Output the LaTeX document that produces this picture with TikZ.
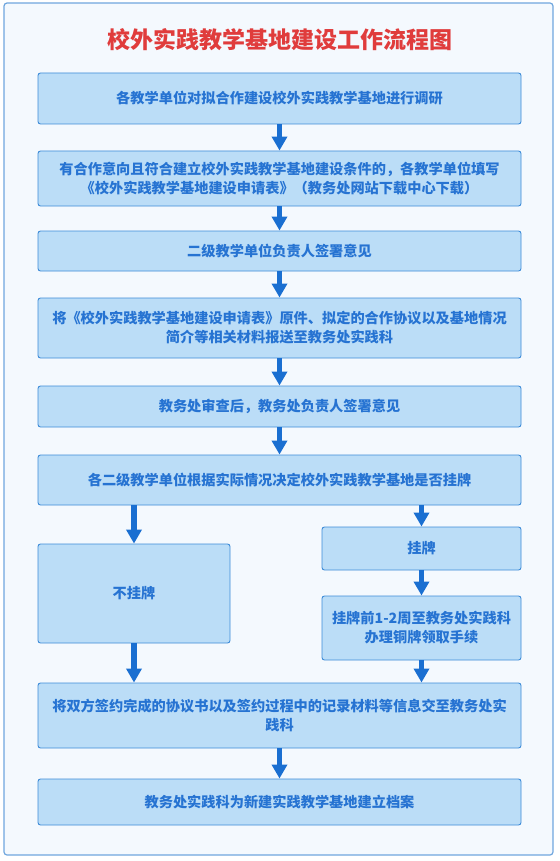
\documentclass[tikz,border=0pt]{standalone}
\usepackage{fontspec}
\newfontfamily\cjk{Noto Sans CJK SC}
\usetikzlibrary{arrows.meta}
\definecolor{frameC}{HTML}{6FA6DE}
\definecolor{bgC}{HTML}{F4F9FE}
\definecolor{boxC}{HTML}{BBDDF7}
\definecolor{boxL}{HTML}{3D8BD8}
\definecolor{txtC}{HTML}{2673D2}
\definecolor{arrC}{HTML}{1A6FD1}
\definecolor{titleC}{HTML}{E03C3C}
\tikzset{
  frame/.style={draw=frameC, line width=1.2pt, fill=bgC, rounded corners=3pt},
  stepbox/.style={draw=boxL, line width=0.9pt, fill=boxC, rounded corners=2.5pt,
    inner sep=0pt, align=center, text=txtC,
    font=\cjk\bfseries\fontsize{14.2}{19}\selectfont},
  flow/.style={draw=arrC, line width=5.5pt, -{Triangle[width=15pt,length=14pt]}, arrC}
}
\begin{document}
\begin{tikzpicture}[x=1pt,y=-1pt]
\useasboundingbox (0,0) rectangle (559,861);
\draw[frame] (4,3) rectangle (553,855);
\node[text=titleC, font=\cjk\bfseries\fontsize{23}{26}\selectfont] (title) at (280,40) {校外实践教学基地建设工作流程图};
\node[stepbox, minimum width=483pt, minimum height=51pt] (b1) at (279.5,98.5) {各教学单位对拟合作建设校外实践教学基地进行调研};
\node[stepbox, minimum width=483pt, minimum height=55pt] (b2) at (279.5,178.5) {有合作意向且符合建立校外实践教学基地建设条件的，各教学单位填写\\《校外实践教学基地建设申请表》（教务处网站下载中心下载）};
\node[stepbox, minimum width=483pt, minimum height=40pt] (b3) at (279.5,251) {二级教学单位负责人签署意见};
\node[stepbox, minimum width=483pt, minimum height=60pt] (b4) at (279.5,328) {将《校外实践教学基地建设申请表》原件、拟定的合作协议以及基地情况\\简介等相关材料报送至教务处实践科};
\node[stepbox, minimum width=483pt, minimum height=41pt] (b5) at (279.5,406.5) {教务处审查后，教务处负责人签署意见};
\node[stepbox, minimum width=483pt, minimum height=50pt] (b6) at (279.5,480) {各二级教学单位根据实际情况决定校外实践教学基地是否挂牌};
\node[stepbox, minimum width=192pt, minimum height=99pt] (b7) at (134,593.5) {不挂牌};
\node[stepbox, minimum width=199pt, minimum height=43pt] (b8) at (421.5,548.5) {挂牌};
\node[stepbox, minimum width=199pt, minimum height=64pt] (b9) at (421.5,628) {挂牌前1-2周至教务处实践科\\办理铜牌领取手续};
\node[stepbox, minimum width=483pt, minimum height=65pt] (b10) at (279.5,715.5) {将双方签约完成的协议书以及签约过程中的记录材料等信息交至教务处实\\践科};
\node[stepbox, minimum width=483pt, minimum height=46pt] (b11) at (279.5,802) {教务处实践科为新建实践教学基地建立档案};
\draw[flow] (b1.south) -- (b2.north);
\draw[flow] (b2.south) -- (b3.north);
\draw[flow] (b3.south) -- (b4.north);
\draw[flow] (b4.south) -- (b5.north);
\draw[flow] (b5.south) -- (b6.north);
\draw[flow] (b6.south -| b7.north) -- (b7.north);
\draw[flow] (b6.south -| b8.north) -- (b8.north);
\draw[flow] (b8.south) -- (b9.north);
\draw[flow] (b7.south) -- (b7.south |- b10.north);
\draw[flow] (b9.south) -- (b9.south |- b10.north);
\draw[flow] (b10.south) -- (b11.north);
\end{tikzpicture}
\end{document}
